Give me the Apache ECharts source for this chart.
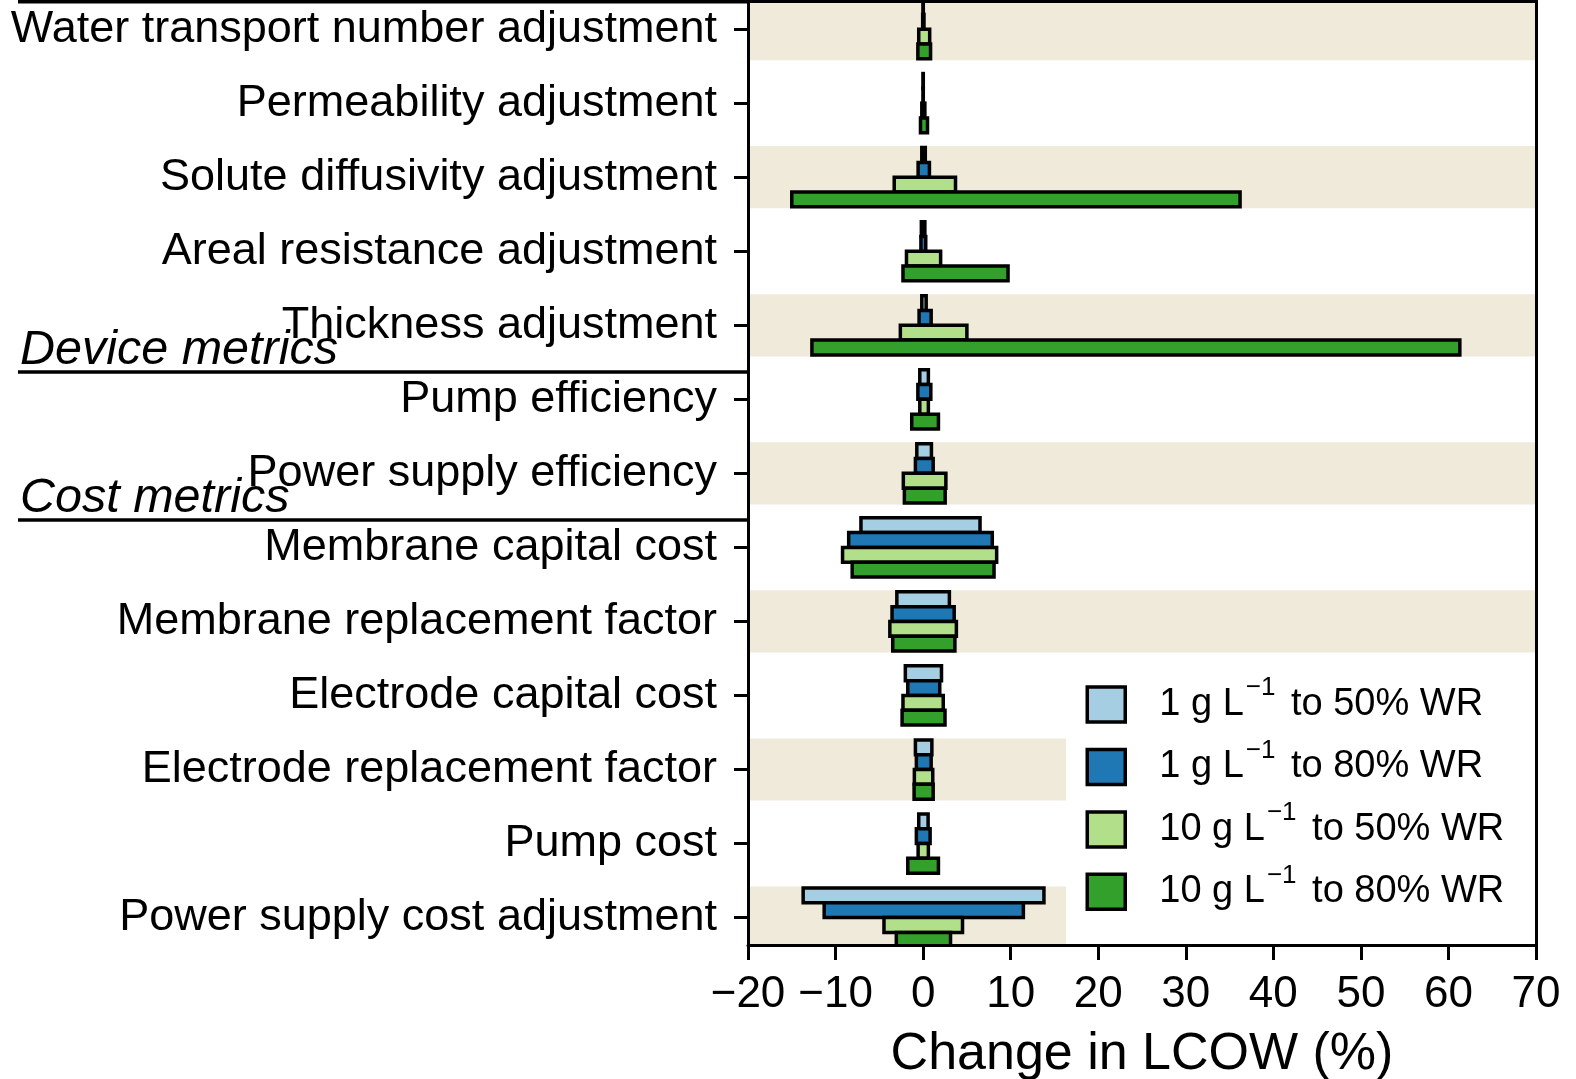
<!DOCTYPE html>
<html>
<head>
<meta charset="utf-8">
<script src="https://cdn.jsdelivr.net/npm/echarts@6/dist/echarts.min.js"></script>
<style>
  html, body { margin: 0; padding: 0; background: #fff; }
  #chart { width: 1576px; height: 1079px; }
</style>
</head>
<body>
<div id="chart"></div>
<script>
// Sensitivity parameters, top to bottom
const categories = [
  'Water transport number adjustment',
  'Permeability adjustment',
  'Solute diffusivity adjustment',
  'Areal resistance adjustment',
  'Thickness adjustment',
  'Pump efficiency',
  'Power supply efficiency',
  'Membrane capital cost',
  'Membrane replacement factor',
  'Electrode capital cost',
  'Electrode replacement factor',
  'Pump cost',
  'Power supply cost adjustment'
];

// Rows that get a shaded background band
const shadedRows = [0, 2, 4, 6, 8, 10, 12];

// Section headings and the first row of each section
const sectionTitles = ['', 'Device metrics', 'Cost metrics'];
const sectionStarts = [0, 5, 7];

// Scenarios: feed salinity (g/L) and water recovery
const concentrations = ['1', '1', '10', '10'];
const recoveries = ['50%', '80%', '50%', '80%'];
const seriesColors = ['#a6cee3', '#1f78b4', '#b2df8a', '#33a02c'];

// Change in LCOW (%) — low and high ends of each range
const low1  = [-0.02, -0.02, -0.15, -0.2, -0.15, -0.38, -0.72, -7.1, -3.0, -2.03, -0.88, -0.5, -13.7];
const high1 = [ 0.02,  0.02,  0.25,  0.2,  0.35,  0.6,   0.95,  6.5,  3.0,  2.1,   1.0,   0.57, 13.8];
const low2  = [-0.05, -0.02, -0.57, -0.25, -0.46, -0.6, -0.88, -8.5, -3.55, -1.75, -0.77, -0.77, -11.3];
const high2 = [ 0.1,   0.02,  0.72,  0.3,   0.92,  0.88,  1.15,  7.9,  3.55,  1.9,   0.92,  0.8,  11.45];
const low3  = [-0.5,  -0.15, -3.3, -1.9, -2.6, -0.38, -2.26, -9.2, -3.8, -2.3, -1.0, -0.57, -4.47];
const high3 = [ 0.75,  0.2,   3.7,  2.0,  5.0,  0.6,   2.6,   8.4,  3.8,  2.3,  1.1,  0.6,   4.5];
const low4  = [-0.6,  -0.3, -15.0, -2.3, -12.7, -1.3, -2.14, -8.1, -3.47, -2.4, -1.03, -1.75, -3.06];
const high4 = [ 0.85,  0.5,  36.2,  9.7,  61.3,  1.75,  2.52,  8.1,  3.63,  2.5,  1.15,  1.75,  3.13];

const lows = [low1, low2, low3, low4];
const highs = [high1, high2, high3, high4];

const FONT = "'Liberation Sans', Arial, Helvetica, sans-serif";
const BAR_OFFSETS = [-0.3, -0.1, 0.1, 0.3];
const BAR_HALF = 0.1;
const BAND_HALF = 0.42;
const EDGE = 3.5;

const seriesNames = concentrations.map((c, k) => c + ' g L\u22121 to ' + recoveries[k] + ' WR');

const chart = echarts.init(document.getElementById('chart'), null, { renderer: 'canvas' });

const barSeries = seriesNames.map((name, k) => ({
  type: 'custom',
  name: name,
  xAxisIndex: 0,
  yAxisIndex: 0,
  z: 2,
  clip: true,
  itemStyle: { color: seriesColors[k], borderColor: '#000', borderWidth: EDGE },
  encode: { x: [1, 2], y: 0 },
  data: categories.map((c, i) => [i, lows[k][i], highs[k][i]]),
  renderItem: function (params, api) {
    const row = api.value(0);
    const lo = api.value(1);
    const hi = api.value(2);
    const p0 = api.coord([lo, row + BAR_OFFSETS[k] - BAR_HALF]);
    const p1 = api.coord([hi, row + BAR_OFFSETS[k] + BAR_HALF]);
    return {
      type: 'rect',
      shape: {
        x: Math.min(p0[0], p1[0]),
        y: Math.min(p0[1], p1[1]),
        width: Math.abs(p1[0] - p0[0]),
        height: Math.abs(p1[1] - p0[1])
      },
      style: { fill: seriesColors[k], stroke: '#000', lineWidth: EDGE }
    };
  }
}));

const bandSeries = {
  type: 'custom',
  name: 'bands',
  xAxisIndex: 0,
  yAxisIndex: 0,
  z: 1,
  clip: true,
  silent: true,
  encode: { x: 0, y: 1 },
  data: shadedRows.map(i => [0, i]),
  renderItem: function (params, api) {
    const row = api.value(1);
    const cs = params.coordSys;
    const a = api.coord([0, row - BAND_HALF]);
    const b = api.coord([0, row + BAND_HALF]);
    return {
      type: 'rect',
      shape: { x: cs.x, y: Math.min(a[1], b[1]), width: cs.width, height: Math.abs(b[1] - a[1]) },
      style: { fill: '#f0eadb' }
    };
  }
};

const rowValues = categories.map((c, i) => i);

const option = {
  backgroundColor: '#fff',
  animation: false,
  textStyle: { fontFamily: FONT, color: '#000' },
  grid: { left: 748, right: 40, top: 1, bottom: 134, containLabel: false, outerBoundsMode: 'none' },
  xAxis: [
    {
      type: 'value', min: -20, max: 70, interval: 10, position: 'bottom', z: 6,
      name: 'Change in LCOW (%)', nameLocation: 'middle', nameGap: 84,
      nameTextStyle: { fontFamily: FONT, fontSize: 52, color: '#000' },
      axisLine: { show: true, onZero: false, lineStyle: { color: '#000', width: 3 } },
      axisTick: { show: true, inside: false, length: 15, lineStyle: { color: '#000', width: 3 } },
      axisLabel: {
        margin: 28, fontFamily: FONT, fontSize: 44, color: '#000',
        formatter: v => (v < 0 ? '\u2212' + Math.abs(v) : String(v))
      },
      splitLine: { show: false }
    },
    {
      type: 'value', min: -20, max: 70, position: 'top', z: 6,
      axisLine: { show: true, onZero: false, lineStyle: { color: '#000', width: 3 } },
      axisTick: { show: false }, axisLabel: { show: false }, splitLine: { show: false }
    }
  ],
  yAxis: [
    {
      type: 'value', inverse: true, min: -0.38, max: 12.37, position: 'left', z: 6,
      axisLine: { show: true, onZero: false, lineStyle: { color: '#000', width: 3 } },
      axisTick: { show: true, inside: false, length: 14, customValues: rowValues, lineStyle: { color: '#000', width: 3 } },
      axisLabel: {
        margin: 31, fontFamily: FONT, fontSize: 45, color: '#000',
        customValues: rowValues,
        formatter: v => categories[Math.round(v)]
      },
      splitLine: { show: false }
    },
    {
      type: 'value', inverse: true, min: -0.38, max: 12.37, position: 'right', z: 6,
      axisLine: { show: true, onZero: false, lineStyle: { color: '#000', width: 3 } },
      axisTick: { show: false }, axisLabel: { show: false }, splitLine: { show: false }
    }
  ],
  legend: {
    orient: 'vertical',
    left: 1066, top: 665,
    padding: [10, 36, 40, 19.5],
    backgroundColor: '#fff',
    borderWidth: 0,
    z: 4,
    icon: 'rect',
    itemWidth: 38, itemHeight: 35, itemGap: 13.7,
    data: seriesNames.map((n, k) => ({
      name: n,
      itemStyle: { color: seriesColors[k], borderColor: '#000', borderWidth: EDGE }
    })),
    formatter: function (name) {
      const k = seriesNames.indexOf(name);
      return '{f|' + concentrations[k] + ' g L}{s|\u22121}{n| to ' + recoveries[k] + ' WR}';
    },
    textStyle: {
      fontFamily: FONT, fontSize: 38, color: '#000',
      rich: {
        f: { fontFamily: FONT, fontSize: 38, color: '#000', padding: [0, 0, 0, 29] },
        s: { fontFamily: FONT, fontSize: 26, color: '#000', padding: [0, 5, 33, 2] },
        n: { fontFamily: FONT, fontSize: 38, color: '#000' }
      }
    }
  },
  series: [bandSeries].concat(barSeries)
};

chart.setOption(option);

// Section headings: underline spans from the left margin to the y axis,
// sitting just above the first row of each section
const axisLeftX = chart.convertToPixel({ xAxisIndex: 0 }, -20);
const headingElements = [];
sectionStarts.forEach((start, k) => {
  const lineY = chart.convertToPixel({ yAxisIndex: 0 }, start - 0.37);
  headingElements.push({
    type: 'line', z: 5,
    shape: { x1: 18, y1: lineY, x2: axisLeftX, y2: lineY },
    style: { stroke: '#000', lineWidth: 3.5 }
  });
  if (sectionTitles[k]) {
    headingElements.push({
      type: 'text', z: 5,
      x: 20, y: lineY + 3,
      style: {
        text: sectionTitles[k],
        fontFamily: FONT, fontSize: 48.5, fontStyle: 'italic',
        fill: '#000', align: 'left', verticalAlign: 'bottom'
      }
    });
  }
});
chart.setOption({ graphic: { elements: headingElements } });
</script>
</body>
</html>
